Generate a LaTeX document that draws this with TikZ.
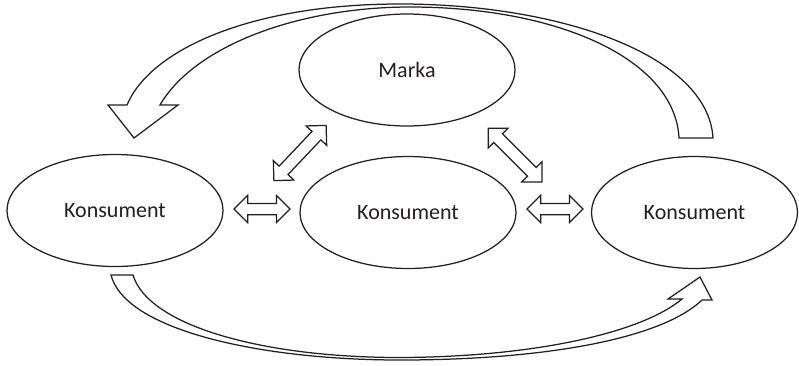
\documentclass[tikz,border=0pt]{standalone}
\usepackage{fontspec}
\setmainfont{Carlito}
\usetikzlibrary{shapes.geometric,shapes.arrows}
\definecolor{ink}{HTML}{231F20}
\tikzset{
  oval/.style={ellipse, draw=ink, line width=1.25pt, fill=white, inner sep=0pt,
    minimum width=216pt, minimum height=112pt,
    font=\fontsize{22}{26}\selectfont, text=ink},
  dbl/.style={double arrow, draw=ink, line width=1.25pt, fill=white, inner sep=0pt,
    double arrow head extend=8pt, minimum height=#1},
  bigarrow/.style={draw=ink, line width=1.25pt, fill=white, line join=miter}
}
\begin{document}
\begin{tikzpicture}[x=1pt,y=-1pt]
\useasboundingbox (0,0) rectangle (799,365);
% ellipses
\node[oval] (marka) at (407,70) {Marka};
\node[oval] (k1) at (115,210.5) {Konsument};
\node[oval] (k2) at (408,212.5) {Konsument};
\node[oval, minimum width=206pt] (k3) at (694.5,212.5) {Konsument};
% double arrows
\node[dbl=56pt] (a1) at (262,209) {\rule{0pt}{10pt}};
\node[dbl=56pt] (a2) at (555,209) {\rule{0pt}{10pt}};
\node[dbl=76pt, rotate=46.6] (a3) at (300,153) {\rule{0pt}{11pt}};
\node[dbl=76pt, rotate=-45] (a4) at (515,155) {\rule{0pt}{11pt}};
% top curved arrow (from right consumer to left consumer)
\coordinate (t1) at (713,138);
\coordinate (t2) at (679,138);
\draw[bigarrow] (t1) .. controls (708,55) and (560,4) .. (400,4)
  .. controls (250,4) and (150,50) .. (127,105)
  -- (108,105) -- (134,138) -- (178,105) -- (160,105)
  .. controls (195,45) and (300,7) .. (410,7)
  .. controls (560,7) and (675,60) .. (t2) -- cycle;
% bottom curved arrow (from left consumer to right consumer)
\coordinate (b1) at (111,275);
\coordinate (b2) at (133,275);
\draw[bigarrow] (b1) .. controls (125,330) and (260,360) .. (400,360)
  .. controls (540,360) and (660,340) .. (702,300)
  -- (712,300) -- (700,277) -- (668,299) -- (682,299)
  .. controls (640,334) and (530,357) .. (400,357.5)
  .. controls (260,357.5) and (148,325) .. (b2) -- cycle;
\end{tikzpicture}
\end{document}
